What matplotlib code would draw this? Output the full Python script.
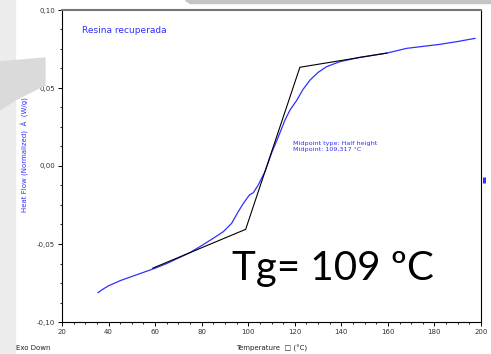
import matplotlib
matplotlib.use("Agg")
import matplotlib.pyplot as plt
from matplotlib.patches import Rectangle, Polygon
from matplotlib.ticker import MultipleLocator, FuncFormatter

# curva DSC
temp = [35.5, 37, 40, 45, 50, 55, 60, 65, 70, 75, 80, 84.3, 89.3, 92.9, 95.7,
        97.9, 100.5, 102.2, 104.3, 107.2, 110.2, 112.4, 115.8, 118, 120.8,
        123.5, 126.5, 130, 133.7, 139.4, 148, 159.6, 168, 182.4, 190, 197.4]
flujo = [-0.0812, -0.0795, -0.0768, -0.0735, -0.0708, -0.0682, -0.0655,
         -0.0625, -0.059, -0.0555, -0.051, -0.047, -0.0421, -0.0367, -0.0293,
         -0.024, -0.0186, -0.0171, -0.0122, -0.0036, 0.009, 0.0167, 0.0295,
         0.036, 0.042, 0.049, 0.055, 0.060, 0.0637, 0.0669, 0.0697, 0.0724,
         0.0754, 0.078, 0.0798, 0.0818]

# lineas de construccion Tg
tg_x = [59, 98.9, 122.2, 159.6]
tg_y = [-0.0655, -0.0406, 0.0633, 0.0724]

marca_x = [201.3]
marca_y = [-0.009]

azul = "#3030ff"

fig = plt.figure(figsize=(4.91, 3.54), dpi=100)
W, H = 491.0, 354.0

# fondo de la diapositiva
fig.patches.append(Rectangle((0, 0), 15 / W, 1, transform=fig.transFigure,
                             color="#ececec", zorder=0))
fig.patches.append(Polygon([(0, 1 - 62 / H), (45 / W, 1 - 58 / H), (45 / W, 1 - 85 / H),
                            (15 / W, 1 - 100 / H), (0, 1 - 110 / H)], closed=True,
                           transform=fig.transFigure, color="#dadada", zorder=0))
fig.patches.append(Polygon([(185 / W, 1), (491 / W, 1), (491 / W, 1 - 3 / H),
                            (190 / W, 1 - 3 / H)], closed=True, transform=fig.transFigure,
                           color="#c4c4c4", zorder=0))

ax = fig.add_axes([62 / W, 1 - 322 / H, (481 - 62) / W, 312 / H])
ax.plot(temp, flujo, color=azul, lw=0.9)
ax.plot(tg_x, tg_y, color="black", lw=0.8)
ax.plot(marca_x, marca_y, "|", color=azul, ms=5, mew=2.2, clip_on=False)

ax.set_xlim(20, 200)
ax.set_ylim(-0.10, 0.10)
ax.xaxis.set_major_locator(MultipleLocator(20))
ax.xaxis.set_minor_locator(MultipleLocator(5))
ax.yaxis.set_major_locator(MultipleLocator(0.05))
ax.yaxis.set_minor_locator(MultipleLocator(0.0125))
ax.yaxis.set_major_formatter(FuncFormatter(lambda v, p: ("%.2f" % v).replace(".", ",").replace("-0,00", "0,00")))
ax.tick_params(which="major", length=3, width=0.7, labelsize=5, labelcolor="#333333", pad=2)
ax.tick_params(which="minor", length=1.5, width=0.6)

ax.spines["top"].set_color("#777777")
ax.spines["top"].set_linewidth(1.5)
ax.spines["right"].set_linewidth(0.8)

ax.text(28.5, 0.087, "Resina recuperada", color=azul, fontsize=6.5, va="center")
ax.text(119.2, 0.0122, "Midpoint type: Half height\nMidpoint: 109,317 °C", color=azul,
        fontsize=4.6, va="center", linespacing=1.25)

fig.text(25 / W, 1 - 155 / H, "Heat Flow (Normalized)  Â  (W/g)", color=azul, fontsize=5,
         rotation=90, ha="center", va="center")
fig.text(272 / W, 1 - 348 / H, "Temperature  □ (°C)", fontsize=5, color="#222222",
         ha="center", va="center")
fig.text(16 / W, 1 - 348 / H, "Exo Down", fontsize=5, color="#222222", ha="left", va="center")

fig.text(232 / W, 1 - 280 / H, "Tg= 109 ºC", fontsize=29, family="Lato", color="black",
         ha="left", va="baseline")

fig.savefig("out.png", dpi=100)
